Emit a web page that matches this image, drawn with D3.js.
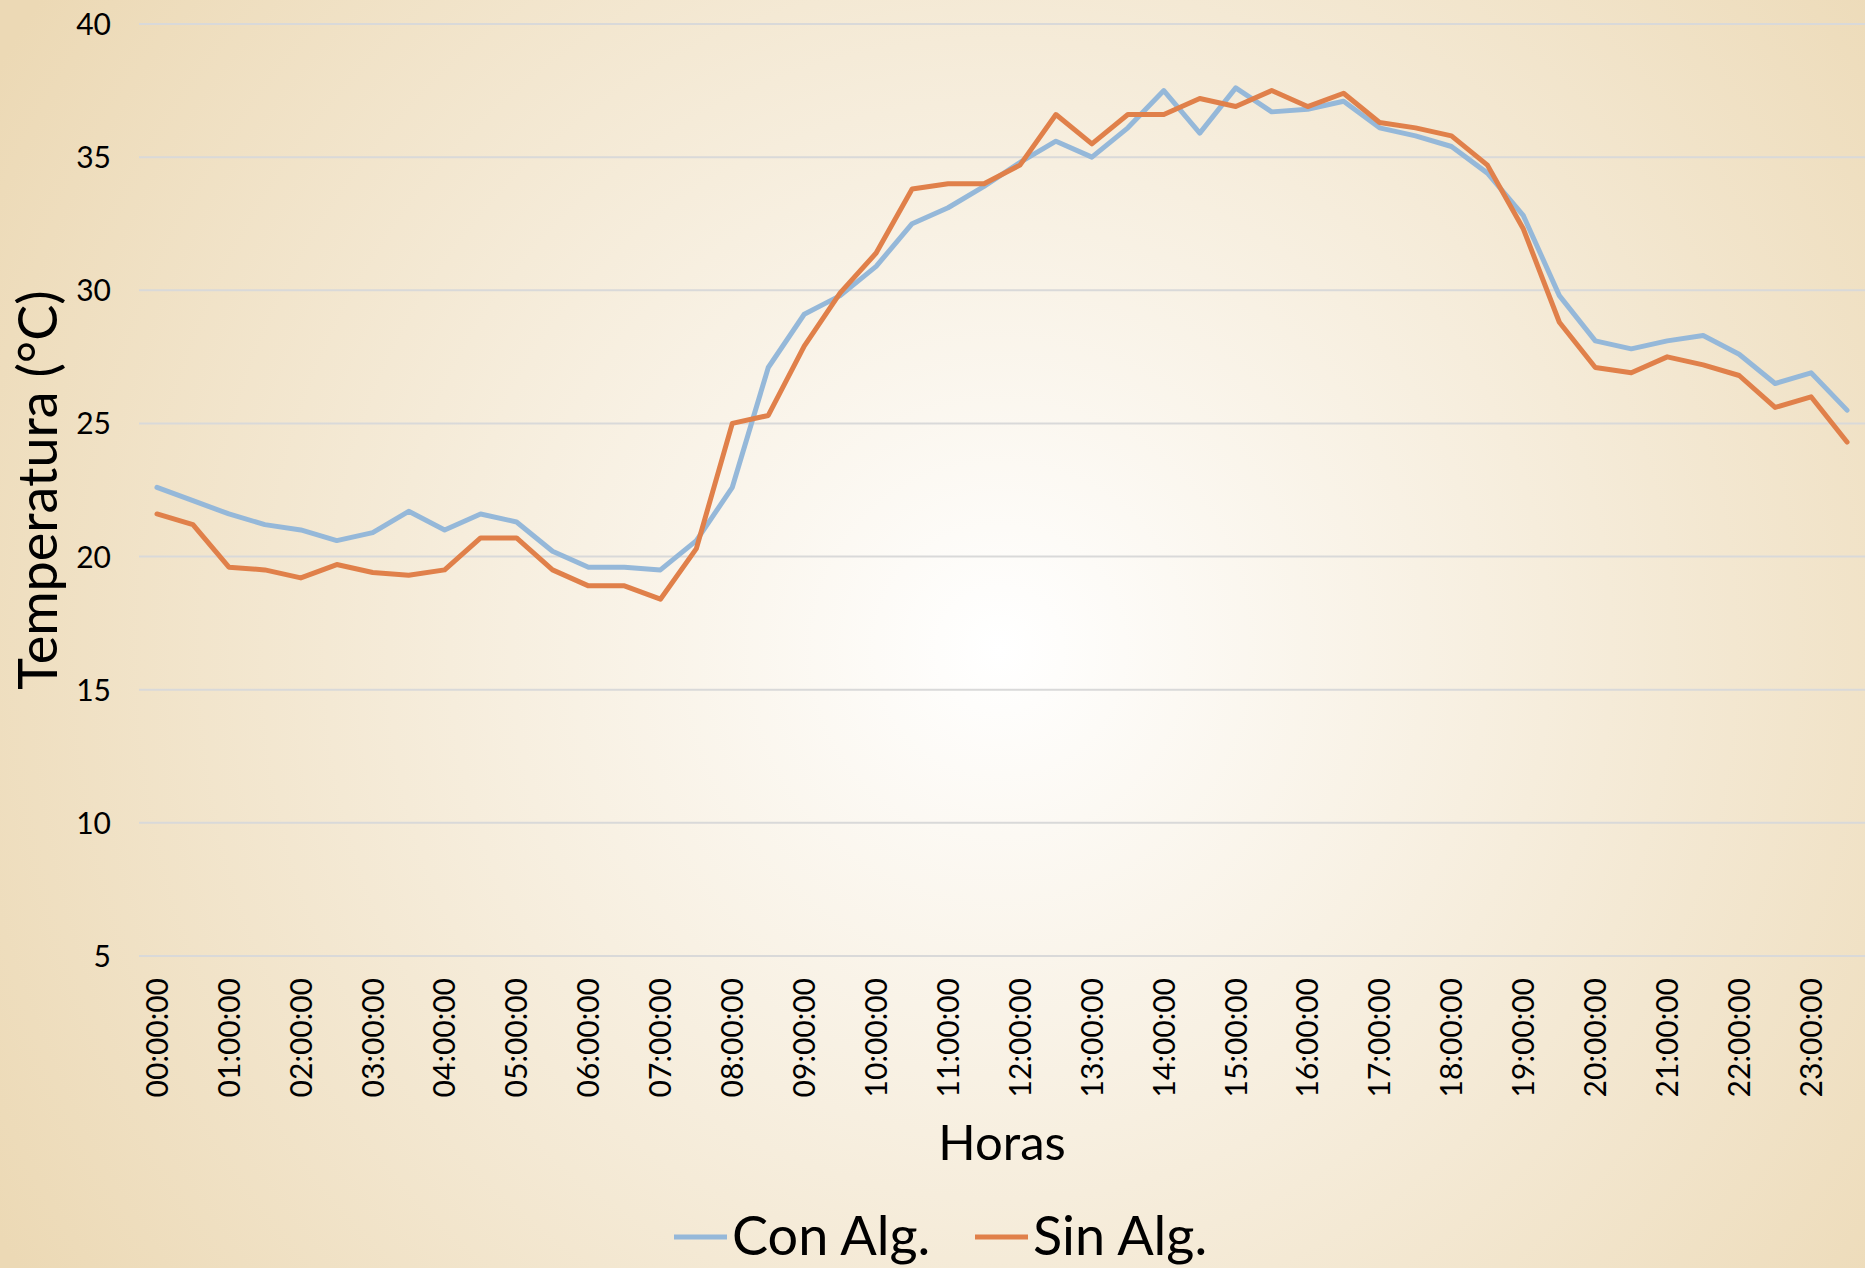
<!DOCTYPE html>
<html lang="es">
<head>
<meta charset="UTF-8">
<title>Temperatura</title>
<script src="https://d3js.org/d3.v7.min.js"></script>
<style>
  html, body { margin: 0; padding: 0; }
  body { font-family: Lato, "Noto Sans", sans-serif; }
  #chart svg { display: block; }
</style>
</head>
<body>
<div id="chart"></div>
<script>
const width = 1865, height = 1268;

// half-hour samples
const horas = [
  "00:00:00", "00:30:00", "01:00:00", "01:30:00", "02:00:00", "02:30:00",
  "03:00:00", "03:30:00", "04:00:00", "04:30:00", "05:00:00", "05:30:00",
  "06:00:00", "06:30:00", "07:00:00", "07:30:00", "08:00:00", "08:30:00",
  "09:00:00", "09:30:00", "10:00:00", "10:30:00", "11:00:00", "11:30:00",
  "12:00:00", "12:30:00", "13:00:00", "13:30:00", "14:00:00", "14:30:00",
  "15:00:00", "15:30:00", "16:00:00", "16:30:00", "17:00:00", "17:30:00",
  "18:00:00", "18:30:00", "19:00:00", "19:30:00", "20:00:00", "20:30:00",
  "21:00:00", "21:30:00", "22:00:00", "22:30:00", "23:00:00", "23:30:00"
];

const conAlg = [
  22.6, 22.1, 21.6, 21.2, 21.0, 20.6, 20.9, 21.7, 21.0, 21.6, 21.3, 20.2,
  19.6, 19.6, 19.5, 20.6, 22.6, 27.1, 29.1, 29.8, 30.9, 32.5, 33.1, 33.9,
  34.8, 35.6, 35.0, 36.1, 37.5, 35.9, 37.6, 36.7, 36.8, 37.1, 36.1, 35.8,
  35.4, 34.4, 32.8, 29.8, 28.1, 27.8, 28.1, 28.3, 27.6, 26.5, 26.9, 25.5
];

const sinAlg = [
  21.6, 21.2, 19.6, 19.5, 19.2, 19.7, 19.4, 19.3, 19.5, 20.7, 20.7, 19.5,
  18.9, 18.9, 18.4, 20.3, 25.0, 25.3, 27.9, 29.9, 31.4, 33.8, 34.0, 34.0,
  34.7, 36.6, 35.5, 36.6, 36.6, 37.2, 36.9, 37.5, 36.9, 37.4, 36.3, 36.1,
  35.8, 34.7, 32.3, 28.8, 27.1, 26.9, 27.5, 27.2, 26.8, 25.6, 26.0, 24.3
];

const yTicks = [5, 10, 15, 20, 25, 30, 35, 40];

const series = [
  { name: "Con Alg.", values: conAlg, color: "#95B8D9" },
  { name: "Sin Alg.", values: sinAlg, color: "#E0804A" }
];

const margin = { top: 24, right: 0, bottom: 312, left: 139 };

const svg = d3.select("#chart").append("svg")
  .attr("width", width)
  .attr("height", height);

// background
const grad = svg.append("defs").append("radialGradient")
  .attr("id", "bg")
  .attr("gradientUnits", "userSpaceOnUse")
  .attr("cx", 1000).attr("cy", 650).attr("r", 1160);
grad.append("stop").attr("offset", "0%").attr("stop-color", "#FFFFFF");
grad.append("stop").attr("offset", "100%").attr("stop-color", "#ECD9B5");

svg.append("rect")
  .attr("width", width).attr("height", height)
  .attr("fill", "url(#bg)");

const x = d3.scaleBand()
  .domain(horas)
  .range([margin.left, width - margin.right]);

const y = d3.scaleLinear()
  .domain([5, 40])
  .range([height - margin.bottom, margin.top]);

const cx = d => x(d) + x.bandwidth() / 2;

// gridlines
svg.append("g")
  .selectAll("line")
  .data(yTicks)
  .enter().append("line")
  .attr("x1", margin.left)
  .attr("x2", width - margin.right)
  .attr("y1", d => y(d))
  .attr("y2", d => y(d))
  .attr("stroke", "#D9D9D9")
  .attr("stroke-width", 2);

// y axis
const yAxis = svg.append("g")
  .attr("transform", `translate(${margin.left - 28},0)`)
  .call(d3.axisLeft(y).tickValues(yTicks).tickSize(0).tickPadding(0));
yAxis.select(".domain").remove();
yAxis.selectAll("text")
  .attr("font-family", "Lato, sans-serif")
  .attr("font-size", 30)
  .attr("fill", "#000")
  .attr("dy", "0.35em");

// x axis
const xAxis = svg.append("g")
  .attr("transform", `translate(0,${height - margin.bottom})`)
  .call(d3.axisBottom(x)
    .tickValues(horas.filter((d, i) => i % 2 === 0))
    .tickSize(0));
xAxis.select(".domain").remove();
xAxis.selectAll("text")
  .attr("font-family", "Lato, sans-serif")
  .attr("font-size", 30)
  .attr("fill", "#000")
  .attr("text-anchor", "end")
  .attr("transform", "rotate(-90)")
  .attr("x", -22)
  .attr("y", 0)
  .attr("dy", "0.36em");

// lines
const line = d3.line()
  .x((d, i) => cx(horas[i]))
  .y(d => y(d));

svg.append("g")
  .selectAll("path")
  .data(series)
  .enter().append("path")
  .attr("d", d => line(d.values))
  .attr("fill", "none")
  .attr("stroke", d => d.color)
  .attr("stroke-width", 5)
  .attr("stroke-linejoin", "round")
  .attr("stroke-linecap", "round");

// axis titles
svg.append("text")
  .attr("transform", "translate(57,490) rotate(-90)")
  .attr("text-anchor", "middle")
  .attr("font-size", 54)
  .attr("fill", "#000")
  .text("Temperatura (°C)");

svg.append("text")
  .attr("x", (margin.left + width - margin.right) / 2)
  .attr("y", 1160)
  .attr("text-anchor", "middle")
  .attr("font-size", 49)
  .attr("fill", "#000")
  .text("Horas");

// legend
const legendPos = [674, 975];
const legend = svg.append("g")
  .selectAll("g")
  .data(series)
  .enter().append("g")
  .attr("transform", (d, i) => `translate(${legendPos[i]},1237)`);
legend.append("line")
  .attr("x1", 0).attr("x2", 53)
  .attr("stroke", d => d.color)
  .attr("stroke-width", 5);
legend.append("text")
  .attr("x", 58)
  .attr("y", 18)
  .attr("font-size", 54)
  .attr("fill", "#000")
  .text(d => d.name);
</script>
</body>
</html>
